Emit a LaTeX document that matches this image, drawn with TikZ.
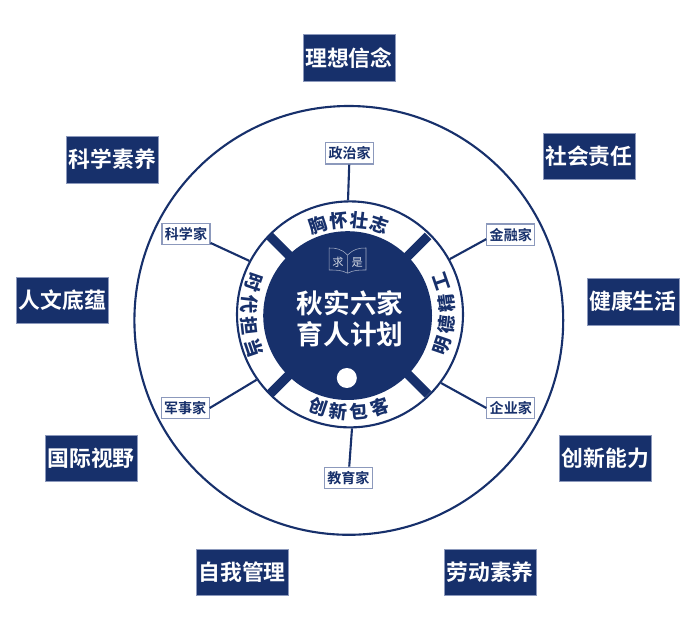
\documentclass[tikz,border=0pt]{standalone}
\usepackage{fontspec}
\setmainfont{Noto Sans CJK SC}[BoldFont={Noto Sans CJK SC Bold}]
\newfontfamily\heavyfont{Noto Sans CJK SC Black}
\usetikzlibrary{calc,positioning}
\usepackage{xcolor}
\definecolor{mnavy}{HTML}{17306B}
\definecolor{mframe}{HTML}{8C99BC}
\tikzstyle{l2}=[line width=1.5pt, color=mnavy]
\tikzstyle{quality}=[rectangle, fill=mnavy, draw=mframe, line width=0.3pt, text=white, font=\bfseries\fontsize{15.5pt}{15.5pt}\selectfont, minimum width=2.3cm, minimum height=1.16cm, inner sep=0pt]
\tikzstyle{expert}=[rectangle, draw=mframe, line width=0.8pt, fill=white, text=mnavy, font=\bfseries\fontsize{10pt}{10pt}\selectfont, minimum width=1.2cm, minimum height=0.54cm, inner sep=0pt]
\tikzstyle{spoke}=[line width=6.6pt, color=mnavy]
\tikzstyle{virtue}=[text=mnavy, font=\heavyfont\fontsize{13pt}{13pt}\selectfont, inner sep=0pt]
\tikzstyle{book}=[line width=0.4pt, color=white!60!mnavy]

\begin{document}
\begin{tikzpicture}
    \useasboundingbox (0,0) rectangle (17.5,16.05);

    \node (outer) [circle, l2, draw, minimum size=10.72cm, inner sep=0pt] at (8.72,8.04) {};

    \begin{scope}[shift={(8.72,8.17)}]
        \node (ring) [circle, l2, draw, minimum size=5.65cm, inner sep=0pt] at (0.03,0.02) {};
        \foreach \a in {45,135,225,315}
            \draw[spoke] (\a:2) -- (\a:2.8);
        \node (disc) [circle, fill=mnavy, minimum size=4.22cm, inner sep=0pt] at (-0.03,-0.01) {};
        \node (dot) [circle, fill=white, minimum size=0.5cm, inner sep=0pt] at (-0.05,-1.57) {};
        \node (title) [text=white, font=\bfseries\fontsize{19pt}{22pt}\selectfont, align=center] at (0.03,-0.08) {秋实六家\\育人计划};

        % ring labels, one glyph at a time
        \foreach \c [count=\i] in {胸,怀,壮,志}
            \node (top\i) [virtue, rotate={(2.5-\i)*12.4}] at ({90+(2.5-\i)*12.4}:2.38) {\c};
        \foreach \c [count=\i] in {明,德,精,工}
            \node (right\i) [virtue, rotate={90+(\i-2.5)*12.6}] at ({1+(\i-2.5)*12.6}:2.46) {\c};
        \foreach \c [count=\i] in {创,新,包,客}
            \node (bottom\i) [virtue, rotate={(\i-2.5)*12.4}] at ({270+(\i-2.5)*12.4}:2.42) {\c};
        \foreach \c [count=\i] in {时,代,担,当}
            \node (left\i) [virtue, rotate={-90+(\i-2.5)*12.6}] at ({180+(\i-2.5)*12.6}:2.5) {\c};

        % book
        \draw[book] (-0.03,1.05) -- (-0.03,1.5) .. controls (-0.18,1.66) and (-0.32,1.68) .. (-0.49,1.68) -- (-0.49,1.13) .. controls (-0.32,1.13) and (-0.18,1.13) .. (-0.03,1.05) .. controls (0.12,1.13) and (0.26,1.13) .. (0.43,1.13) -- (0.43,1.68) .. controls (0.26,1.68) and (0.12,1.66) .. (-0.03,1.5);
        \node (qiu) [text=white!80!mnavy, font=\fontsize{8pt}{8pt}\selectfont, inner sep=0pt] at (-0.27,1.33) {求};
        \node (shi) [text=white!80!mnavy, font=\fontsize{8pt}{8pt}\selectfont, inner sep=0pt] at (0.21,1.33) {是};
    \end{scope}

    \node (q1) [quality] at (8.72,14.61) {理想信念};
    \node (q2) [quality] at (2.81,12.06) {科学素养};
    \node (q3) [quality] at (14.72,12.14) {社会责任};
    \node (q4) [quality] at (1.56,8.55) {人文底蕴};
    \node (q5) [quality] at (15.82,8.51) {健康生活};
    \node (q6) [quality] at (2.28,4.59) {国际视野};
    \node (q7) [quality] at (15.13,4.59) {创新能力};
    \node (q8) [quality] at (6.05,1.74) {自我管理};
    \node (q9) [quality] at (12.25,1.74) {劳动素养};

    \node (e1) [expert] at (8.74,12.22) {政治家};
    \node (e2) [expert] at (4.65,10.2) {科学家};
    \node (e3) [expert] at (12.77,10.18) {金融家};
    \node (e4) [expert] at (4.63,5.85) {军事家};
    \node (e5) [expert] at (12.77,5.85) {企业家};
    \node (e6) [expert] at (8.71,4.1) {教育家};

    \draw[l2] (e1) -- (ring.91);
    \draw[l2] (e2.-20) -- (ring.152);
    \draw[l2] (e3.190) -- (ring.29);
    \draw[l2] (e4.east) -- (ring.215);
    \draw[l2] (e5.west) -- (ring.323);
    \draw[l2] (e6) -- (ring.271);
\end{tikzpicture}
\end{document}
